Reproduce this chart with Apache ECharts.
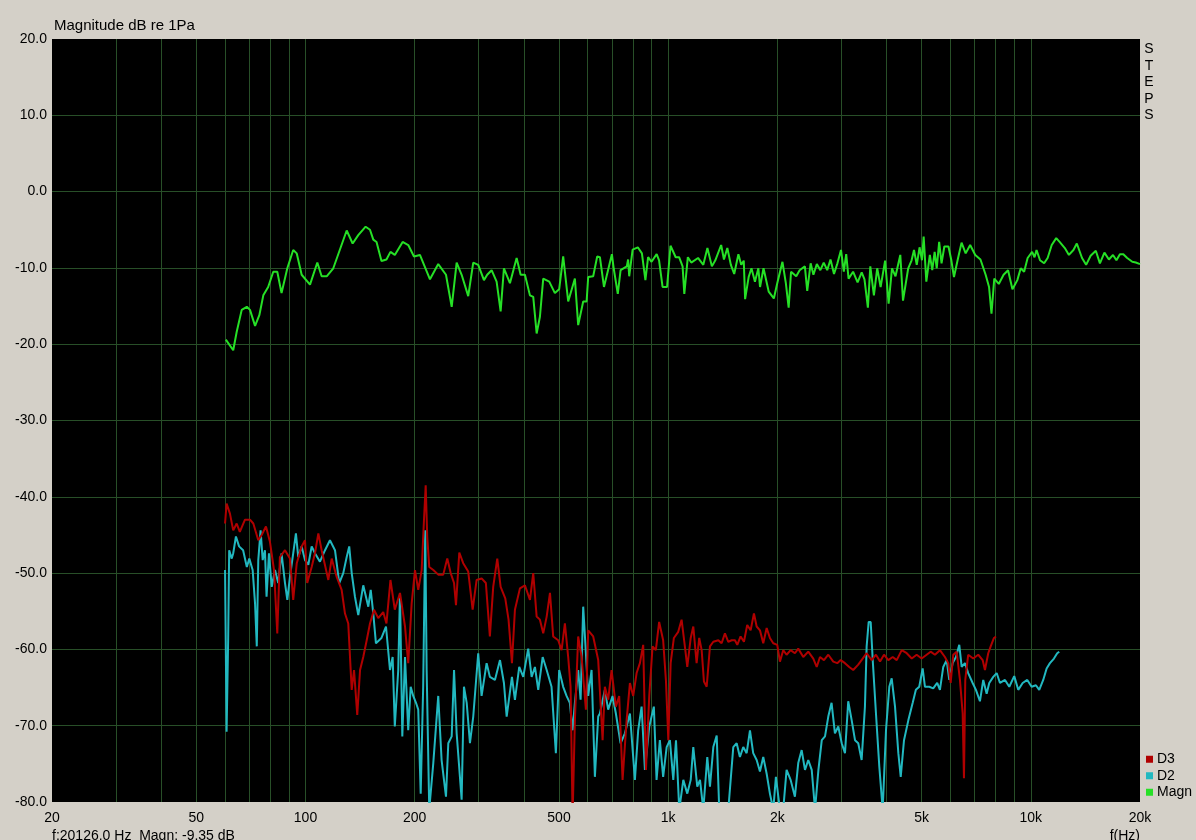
<!DOCTYPE html>
<html>
<head>
<meta charset="utf-8">
<script src="https://cdn.jsdelivr.net/npm/echarts@6/dist/echarts.min.js"></script>
<style>
html,body{margin:0;padding:0;background:#D4D0C8;}
#chart{width:1196px;height:840px;}
</style>
</head>
<body>
<div id="chart"></div>
<script>
// ---- tick labels / axes ----
const xTickValues = [30,40,50,60,70,80,90,100,200,300,400,500,600,700,800,900,1000,2000,3000,4000,5000,6000,7000,8000,9000,10000];
const xLabelValues = [20,50,100,200,500,1000,2000,5000,10000,20000];
const yMin = -80, yMax = 20, yStep = 10;
const seriesNames = ['D3','D2','Magn'];

// ---- data: [frequency Hz, magnitude dB] ----
const magnPoints = [[60.3,-19.4],[63.2,-20.8],[64.6,-18.4],[66.7,-15.5],[68.9,-15.1],[70.3,-15.5],[72.6,-17.6],[74.6,-16.2],[76.5,-13.6],[78.9,-12.5],[81.5,-10.5],[83.6,-10.5],[85.9,-13.3],[89.1,-10.05],[92.5,-7.65],[94.6,-8.1],[97.6,-10.9],[102.9,-12.2],[107.8,-9.3],[110.8,-11.1],[114.4,-11.1],[119.3,-10.05],[129.9,-5.1],[134.9,-6.8],[139.8,-5.7],[146.5,-4.6],[150.6,-5.0],[153.8,-6.3],[157.0,-6.6],[162.0,-9.1],[167.2,-8.9],[171.5,-7.9],[176.3,-8.3],[185.3,-6.6],[192.0,-7.0],[199.1,-8.5],[206.8,-8.3],[220.4,-11.5],[232.3,-9.5],[244.0,-10.9],[253.0,-15.1],[261.1,-9.3],[269.5,-10.9],[281.0,-13.7],[290.1,-9.3],[299.4,-9.6],[310.5,-11.6],[317.0,-10.9],[326.0,-10.3],[336.5,-11.8],[345.2,-15.7],[352.5,-10.05],[366.2,-12.0],[382.1,-8.7],[392.0,-10.9],[402.8,-10.9],[415.8,-13.6],[424.6,-13.8],[433.9,-18.6],[443.0,-16.4],[452.4,-11.4],[470.0,-11.8],[487.2,-13.3],[500.6,-12.8],[513.5,-8.5],[530.1,-14.4],[553.1,-11.4],[564.8,-17.5],[583.1,-14.4],[595.8,-14.4],[601.9,-11.2],[621.3,-11.1],[637.3,-8.5],[648.3,-8.6],[665.3,-12.5],[699.6,-8.2],[707.6,-10.05],[726.3,-13.4],[739.3,-10.3],[769.1,-9.8],[775.5,-8.9],[780.9,-11.1],[798.0,-7.6],[824.7,-7.3],[846.5,-8.1],[865.5,-11.6],[880.5,-8.6],[900,-9.2],[929.6,-8.2],[943.9,-9.0],[965.1,-12.5],[993.0,-12.5],[1015,-7.1],[1049,-8.6],[1072,-8.6],[1096,-9.8],[1108,-13.4],[1133,-8.6],[1158,-9.3],[1209,-8.7],[1250,-9.6],[1283,-7.4],[1320,-9.8],[1349,-9.0],[1400,-7.0],[1425,-8.9],[1456,-7.4],[1489,-9.6],[1521,-10.8],[1562,-8.2],[1590,-9.6],[1616,-9.05],[1630,-14.1],[1667,-11.2],[1697,-10.05],[1735,-11.8],[1773,-10.05],[1792,-12.5],[1832,-10.05],[1893,-13.1],[1956,-14.0],[1999,-12.0],[2066,-9.2],[2111,-12.0],[2149,-15.2],[2182,-10.5],[2255,-11.1],[2304,-10.3],[2382,-9.8],[2418,-13.0],[2471,-9.4],[2515,-10.9],[2570,-9.5],[2628,-10.3],[2685,-9.3],[2745,-10.3],[2803,-8.9],[2866,-10.8],[2929,-9.4],[2996,-7.65],[3050,-10.5],[3097,-8.2],[3144,-11.4],[3235,-10.5],[3329,-11.9],[3417,-10.6],[3478,-11.5],[3554,-15.2],[3609,-9.8],[3692,-13.6],[3771,-10.05],[3853,-12.5],[3965,-9.05],[4054,-14.7],[4142,-10.05],[4235,-11.1],[4366,-8.3],[4442,-14.3],[4591,-10.05],[4691,-9.0],[4763,-7.65],[4847,-9.6],[4934,-7.3],[5010,-9.0],[5064,-5.9],[5151,-11.8],[5267,-8.3],[5348,-10.3],[5430,-7.9],[5503,-10.05],[5588,-6.6],[5673,-9.4],[5775,-7.2],[5928,-7.2],[6031,-8.9],[6139,-11.2],[6301,-8.7],[6442,-6.7],[6612,-8.1],[6803,-7.0],[7027,-8.3],[7263,-8.9],[7506,-10.9],[7670,-12.5],[7790,-16.0],[7929,-11.4],[8159,-12.1],[8411,-10.9],[8655,-10.3],[8898,-12.8],[9179,-11.6],[9379,-10.05],[9584,-10.5],[9799,-8.7],[10083,-7.9],[10238,-8.6],[10369,-7.65],[10601,-9.0],[10881,-9.4],[11126,-8.7],[11419,-7.0],[11750,-6.1],[12006,-6.6],[12409,-7.4],[12736,-8.3],[13106,-7.65],[13391,-6.8],[13841,-8.7],[14206,-9.6],[14617,-8.4],[15108,-7.75],[15506,-9.4],[15956,-8.0],[16418,-8.9],[16851,-8.3],[17219,-9.0],[17606,-8.2],[17990,-8.2],[18439,-8.7],[19046,-9.2],[19474,-9.3],[20000,-9.5]];

const d3Points = [[60,-43.5],[60.6,-40.9],[61.9,-42.2],[63.2,-44.4],[64.6,-43.5],[65.9,-44.6],[68.1,-43.0],[70.3,-43.0],[71.8,-43.5],[74.1,-45.7],[75.7,-45.0],[77.8,-43.9],[79.8,-45.9],[81.9,-49.6],[83.6,-57.9],[85.0,-47.9],[87.8,-47.0],[90.6,-48.1],[92.5,-53.5],[94.6,-48.7],[97.6,-46.5],[99.7,-45.7],[101.1,-51.3],[104.0,-49.2],[106.2,-47.4],[108.5,-44.8],[110.8,-47.0],[115.6,-50.9],[118.1,-48.1],[121.9,-50.5],[125.8,-52.2],[128.5,-55.3],[131.2,-56.6],[134.1,-65.3],[136.1,-62.7],[138.9,-68.6],[141.4,-62.7],[144.3,-61.0],[147.5,-58.8],[150.6,-56.6],[154.5,-54.8],[158.7,-55.9],[163.8,-55.1],[167.2,-56.6],[171.5,-50.9],[176.3,-54.8],[182.2,-52.6],[188.1,-57.0],[192.0,-61.8],[196.2,-54.0],[200.4,-49.6],[204.6,-52.2],[209.1,-49.6],[212.2,-43.0],[214.5,-38.5],[216.6,-45.2],[219.4,-49.2],[225.1,-49.6],[232.3,-50.2],[239.8,-50.2],[246.0,-48.1],[251.4,-50.0],[256.8,-51.3],[260.0,-54.2],[265.5,-47.3],[272.2,-48.7],[281.0,-49.8],[289.0,-54.8],[296.4,-50.9],[305.9,-50.7],[314.3,-51.3],[322.4,-58.3],[329.3,-51.8],[337.9,-48.1],[345.2,-51.8],[355.5,-53.3],[363.0,-56.1],[370.9,-61.8],[378.0,-54.8],[390.2,-52.0],[402.8,-51.6],[415.8,-53.5],[424.6,-50.0],[433.9,-55.7],[443.0,-56.1],[452.4,-57.9],[462.4,-55.7],[472.2,-52.6],[481.9,-58.3],[497.5,-58.8],[508.3,-60.1],[519.1,-56.6],[530.1,-61.0],[538.2,-64.9],[545.1,-82],[553.1,-69.3],[564.8,-58.3],[577.2,-61.0],[593.2,-67.9],[601.9,-57.5],[621.3,-58.3],[641.4,-61.4],[648.3,-61.4],[659.5,-71.9],[669.0,-64.9],[683.3,-66.6],[698.2,-62.7],[717.5,-67.5],[732.7,-66.1],[748.7,-77.1],[768.1,-69.3],[784.4,-64.4],[801.0,-66.1],[818.5,-63.1],[835.8,-61.8],[853.5,-59.4],[868.5,-75.8],[886.9,-66.1],[905.7,-59.6],[924.8,-60.1],[944.4,-56.4],[968.7,-58.8],[986.1,-64.1],[1001,-71.9],[1016,-61.8],[1037,-58.5],[1066,-57.7],[1089,-56.1],[1112,-59.6],[1129,-62.3],[1154,-58.5],[1173,-57.0],[1198,-61.8],[1218,-58.5],[1237,-60.1],[1255,-64.2],[1277,-64.9],[1304,-59.6],[1332,-59.0],[1375,-58.8],[1404,-59.2],[1434,-57.9],[1465,-59.0],[1497,-58.8],[1528,-58.8],[1551,-59.4],[1584,-58.3],[1618,-59.0],[1652,-56.8],[1688,-57.5],[1724,-55.3],[1754,-57.0],[1791,-57.5],[1829,-59.2],[1869,-57.2],[1908,-58.5],[1949,-59.2],[1999,-59.4],[2033,-61.6],[2076,-60.1],[2121,-60.7],[2176,-60.1],[2236,-60.5],[2284,-59.9],[2358,-61.0],[2434,-60.3],[2513,-61.2],[2568,-62.3],[2622,-61.0],[2689,-61.4],[2764,-60.7],[2853,-61.6],[2926,-61.8],[2990,-61.4],[3073,-61.8],[3157,-62.3],[3238,-62.7],[3343,-62.0],[3438,-61.2],[3526,-60.5],[3640,-61.4],[3741,-60.7],[3839,-61.6],[3937,-60.7],[4046,-61.4],[4161,-61.0],[4268,-61.4],[4406,-60.1],[4548,-60.5],[4695,-61.2],[4844,-60.7],[5000,-61.2],[5161,-60.7],[5294,-60.3],[5440,-60.7],[5615,-60.1],[5796,-61.0],[5920,-61.8],[6011,-64.4],[6111,-60.7],[6244,-60.3],[6376,-64.0],[6487,-68.4],[6541,-76.9],[6595,-64.0],[6719,-60.7],[6938,-61.2],[7161,-60.7],[7365,-61.4],[7473,-62.7],[7631,-60.5],[7750,-59.6],[7914,-58.5],[8015,-58.3]];

const d2Points = [[60.0,-49.6],[60.3,-60.1],[60.6,-70.8],[61.2,-58.8],[61.6,-47.0],[62.6,-48.1],[63.2,-47.4],[64.3,-45.2],[65.6,-46.5],[67.3,-47.0],[68.9,-49.2],[70.0,-48.1],[71.5,-49.6],[72.6,-54.0],[73.4,-59.6],[74.1,-48.3],[75.2,-44.4],[76.2,-48.3],[77.3,-47.0],[78.1,-53.1],[79.3,-47.4],[80.7,-51.8],[82.4,-49.6],[84.1,-51.3],[85.9,-47.4],[87.8,-51.3],[89.1,-53.5],[90.6,-50.5],[92.5,-47.4],[94.1,-44.8],[95.5,-47.9],[97.6,-46.5],[99.7,-48.3],[101.8,-48.9],[104.0,-46.5],[106.2,-47.4],[109.6,-48.5],[113.2,-47.0],[116.8,-45.7],[120.6,-47.0],[123.9,-51.3],[127.1,-50.0],[129.9,-47.9],[132.0,-46.5],[134.1,-50.0],[136.9,-53.1],[139.8,-55.5],[144.3,-51.6],[149.0,-54.4],[151.3,-52.2],[153.8,-55.3],[156.4,-59.2],[162.0,-58.5],[166.7,-57.0],[171.0,-62.7],[173.9,-61.0],[176.3,-70.1],[180.2,-62.7],[182.2,-52.6],[184.9,-71.4],[188.1,-61.0],[192.0,-70.6],[195.0,-64.9],[198.2,-66.1],[201.7,-67.0],[204.6,-67.9],[207.8,-78.9],[211.1,-64.9],[213.9,-44.4],[215.8,-62.7],[219.4,-81],[225.1,-74.9],[232.3,-66.1],[237.3,-74.5],[244.0,-79.3],[247.6,-72.3],[253.0,-71.4],[256.8,-62.7],[261.1,-71.0],[269.5,-79.7],[273.5,-64.9],[278.3,-67.0],[284.1,-72.3],[290.1,-68.8],[299.4,-60.5],[305.9,-66.1],[315.8,-61.8],[322.4,-63.6],[332.9,-64.0],[343.8,-61.4],[352.5,-64.4],[358.7,-68.8],[370.9,-63.6],[378.0,-66.6],[388.5,-62.3],[398.5,-63.6],[411.3,-59.9],[420.3,-63.6],[429.2,-62.3],[438.3,-65.3],[450.8,-61.0],[462.4,-62.7],[476.9,-64.9],[490.2,-73.6],[500.6,-62.7],[513.5,-64.9],[524.6,-66.1],[535.6,-67.0],[545.1,-70.6],[553.1,-67.0],[564.8,-62.7],[573.6,-66.6],[583.1,-54.4],[593.2,-60.5],[601.9,-66.1],[614.9,-62.7],[628.0,-76.7],[641.4,-68.8],[648.3,-68.4],[669.0,-65.3],[683.3,-67.9],[702.7,-66.1],[717.5,-68.4],[739.3,-72.3],[759.9,-71.0],[784.4,-68.4],[809.7,-77.1],[826.7,-70.6],[844.8,-67.5],[862.9,-75.8],[886.9,-70.1],[913.2,-67.5],[929.0,-77.1],[948.6,-71.9],[968.7,-76.7],[990.5,-72.8],[1011,-71.9],[1033,-77.1],[1051,-71.9],[1073,-81],[1101,-77.1],[1129,-78.9],[1154,-77.1],[1173,-72.8],[1203,-78.0],[1224,-77.1],[1250,-81],[1282,-74.1],[1304,-78.0],[1332,-72.8],[1361,-71.3],[1383,-81],[1413,-81],[1465,-81],[1512,-72.8],[1545,-72.3],[1577,-74.1],[1611,-72.8],[1646,-73.6],[1681,-70.6],[1716,-73.6],[1754,-74.5],[1791,-76.0],[1829,-74.1],[1869,-76.3],[1908,-78.9],[1949,-81],[1982,-76.7],[2033,-81],[2076,-81],[2121,-75.8],[2176,-77.1],[2236,-79.3],[2284,-74.9],[2334,-73.2],[2384,-75.8],[2434,-74.5],[2488,-75.8],[2541,-81],[2596,-75.8],[2652,-71.9],[2707,-71.4],[2764,-68.8],[2822,-67.0],[2883,-71.0],[2945,-70.1],[3010,-72.3],[3073,-73.6],[3137,-66.8],[3207,-69.3],[3275,-71.9],[3343,-72.3],[3416,-74.5],[3488,-67.5],[3526,-59.6],[3572,-56.4],[3618,-56.4],[3665,-61.4],[3741,-68.4],[3822,-75.4],[3904,-81],[3987,-70.6],[4072,-64.9],[4134,-63.8],[4222,-67.5],[4312,-73.6],[4378,-76.7],[4470,-71.9],[4594,-69.3],[4724,-67.0],[4820,-65.3],[4924,-64.9],[5032,-62.5],[5106,-64.9],[5246,-64.9],[5381,-65.1],[5519,-64.4],[5615,-65.3],[5735,-62.3],[5860,-61.4],[5958,-64.0],[6088,-61.8],[6217,-61.0],[6349,-59.4],[6446,-62.3],[6582,-61.8],[6719,-63.1],[6912,-64.4],[7058,-65.3],[7239,-66.8],[7393,-64.0],[7554,-65.8],[7680,-64.4],[7878,-63.6],[8051,-63.1],[8221,-64.4],[8487,-64.0],[8722,-64.9],[9000,-63.5],[9232,-65.3],[9495,-64.4],[9777,-64.0],[10051,-64.9],[10329,-64.7],[10548,-65.3],[10819,-64.0],[11055,-62.5],[11289,-61.8],[11580,-61.2],[11824,-60.5],[11976,-60.3]];

const colors = {D3:'#B00000', D2:'#22B8C0', Magn:'#26E026'};
const gridColor = '#284F28';
const FONT = '"Liberation Sans", Arial, sans-serif';

const chart = echarts.init(document.getElementById('chart'), null, {renderer:'canvas'});
chart.setOption({
  backgroundColor:'#D4D0C8',
  animation:false,
  textStyle:{fontFamily:FONT},
  grid:{left:52, top:39, right:56, bottom:38, show:true, backgroundColor:'#000', borderWidth:0, containLabel:false},
  xAxis:{
    type:'log', logBase:10, min:20, max:20000,
    axisLine:{show:false},
    axisTick:{show:false, customValues:xTickValues},
    axisLabel:{customValues:xLabelValues, color:'#000', fontSize:14, fontFamily:FONT, margin:9,
      formatter:v => v >= 1000 ? (v/1000)+'k' : String(v)},
    splitLine:{show:true, lineStyle:{color:gridColor, width:1}}
  },
  yAxis:{
    type:'value', min:yMin, max:yMax, interval:yStep,
    axisLine:{show:false}, axisTick:{show:false},
    axisLabel:{color:'#000', fontSize:14, fontFamily:FONT, margin:5, formatter:v => v.toFixed(1)},
    splitLine:{show:true, showMinLine:false, showMaxLine:false, lineStyle:{color:gridColor, width:1}}
  },
  legend:{
    data:seriesNames, orient:'vertical', left:1146, top:751,
    icon:'rect', itemWidth:7, itemHeight:7, itemGap:0,
    textStyle:{color:'#000', fontSize:14, fontFamily:FONT, lineHeight:16.5, padding:[0,0,0,-1]},
    padding:0, selectedMode:false
  },
  graphic:[
    {type:'text', left:54, top:18, style:{text:'Magnitude dB re 1Pa', fill:'#000', font:'15px '+FONT}},
    {type:'text', x:1149, y:41, style:{text:'S\nT\nE\nP\nS', fill:'#000', font:'14px '+FONT, align:'center', lineHeight:16.5}},
    {type:'text', left:52, top:829, style:{text:'f:20126.0 Hz  Magn: -9.35 dB', fill:'#000', font:'14px '+FONT}},
    {type:'text', x:1140, y:829, style:{text:'f(Hz)', fill:'#000', font:'14px '+FONT, align:'right'}}
  ],
  series:[
    {name:'D2', type:'line', data:d2Points, showSymbol:false, symbol:'none', lineStyle:{color:colors.D2, width:2}, itemStyle:{color:colors.D2}, clip:true, z:2},
    {name:'D3', type:'line', data:d3Points, showSymbol:false, symbol:'none', lineStyle:{color:colors.D3, width:2}, itemStyle:{color:colors.D3}, clip:true, z:3},
    {name:'Magn', type:'line', data:magnPoints, showSymbol:false, symbol:'none', lineStyle:{color:colors.Magn, width:2}, itemStyle:{color:colors.Magn}, clip:true, z:4}
  ]
});
</script>
</body>
</html>
